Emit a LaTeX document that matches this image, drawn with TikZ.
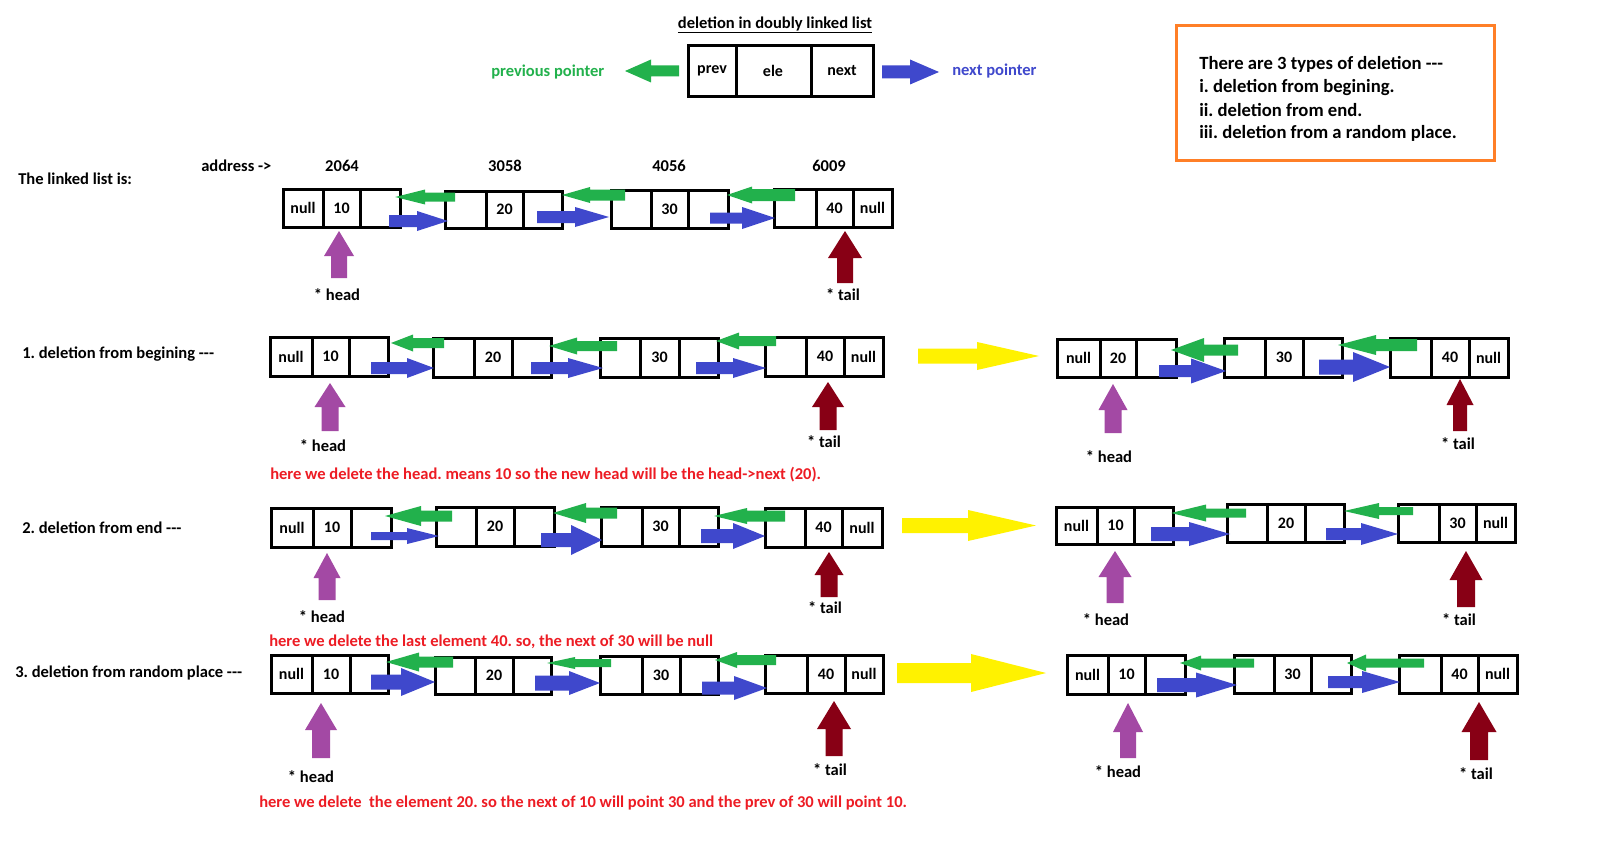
\documentclass[tikz,border=0pt]{standalone}
\usepackage{fontspec}
\setmainfont{Carlito}
\frenchspacing
\definecolor{pgreen}{HTML}{22B14C}
\definecolor{pblue}{HTML}{3F48CC}
\definecolor{ppurple}{HTML}{A349A4}
\definecolor{pdred}{HTML}{880015}
\definecolor{pyellow}{HTML}{FFF200}
\definecolor{porange}{HTML}{FF7F27}
\definecolor{pred}{HTML}{ED1C24}
\newcommand{\tdash}{\mbox{-}\mbox{-}\mbox{-}}
\tikzset{
  boxline/.style={line width=2.25pt, draw=black},
  celltext/.style={font=\fontsize{12}{14}\selectfont\bfseries, inner sep=0pt},
  lbl/.style={font=\fontsize{12.4}{14}\selectfont\bfseries, inner sep=0pt, anchor=west},
  clbl/.style={font=\fontsize{12.4}{14}\selectfont\bfseries, inner sep=0pt},
  redlbl/.style={lbl, text=pred},
  boxtext/.style={font=\fontsize{14}{16}\selectfont\bfseries, inner sep=0pt, anchor=west},
}
% generic three-cell list node
\newcommand{\dllbox}[8]{%
  \draw[boxline] (#2,#6) rectangle (#5,#7) (#3,#6) -- (#3,#7) (#4,#6) -- (#4,#7);
  \node[celltext] (#1a) at ({(#2+#3)/2},{(#6+#7)/2}) {\dllA};
  \node[celltext] (#1b) at ({(#3+#4)/2},{(#6+#7)/2}) {#8};
  \node[celltext] (#1c) at ({(#4+#5)/2},{(#6+#7)/2}) {\dllC};
}
\newcommand{\dllhead}{\def\dllA{null}\def\dllC{}\dllbox}
\newcommand{\dllmid}{\def\dllA{}\def\dllC{}\dllbox}
\newcommand{\dlltail}{\def\dllA{}\def\dllC{null}\dllbox}
% horizontal block arrow: colour, x tail, x head base, x tip, y, shaft, head
\newcommand{\harrow}[7]{%
  \fill[#1] (#2,{#5-#6/2}) -- (#3,{#5-#6/2}) -- (#3,{#5-#7/2}) -- (#4,#5)
    -- (#3,{#5+#7/2}) -- (#3,{#5+#6/2}) -- (#2,{#5+#6/2}) -- cycle;}
% vertical (upward) block arrow: colour, x, y tip, y head base, y bottom, shaft, head
\newcommand{\varrow}[7]{%
  \fill[#1] ({#2-#6/2},#5) -- ({#2-#6/2},#4) -- ({#2-#7/2},#4) -- (#2,#3)
    -- ({#2+#7/2},#4) -- ({#2+#6/2},#4) -- ({#2+#6/2},#5) -- cycle;}
\begin{document}
\begin{tikzpicture}[x=0.75pt,y=-0.75pt]
\useasboundingbox (0,0) rectangle (1598,845);
\fill[white] (0,0) rectangle (1598,845);

% ---------- header ----------
\node[clbl] (title) at (775,25) {\underline{deletion in doubly linked list}};
\draw[boxline] (688,46) rectangle (873,97) (736,46) -- (736,97) (811,46) -- (811,97);
\node[celltext] (lprev) at (712,71) {prev};
\node[celltext] (lele) at (773,71) {ele};
\node[celltext] (lnext) at (842,71) {next};
\harrow{pgreen}{679}{651}{625}{71}{11}{23}
\harrow{pblue}{882}{910}{939}{72}{13}{25}
\node[lbl, text=pgreen] (prevlbl) at (491,72) {previous pointer};
\node[lbl, text=pblue] (nextlbl) at (952,71) {next pointer};

\draw[draw=porange, line width=2.25pt] (1176,26) rectangle (1494,161);
\node[boxtext] (t1) at (1199,64) {There are 3 types of deletion \tdash};
\node[boxtext] (t2) at (1199,88) {i. deletion from begining.};
\node[boxtext] (t3) at (1199,110) {ii. deletion from end.};
\node[boxtext] (t4) at (1199,133) {iii. deletion from a random place.};

% ---------- the linked list ----------
\node[lbl] (lltitle) at (18,179) {The linked list is:};
\node[lbl] (addr) at (201,166) {address ->};
\node[clbl] (a1) at (342,166) {2064};
\node[clbl] (a2) at (505,166) {3058};
\node[clbl] (a3) at (669,166) {4056};
\node[clbl] (a4) at (829,166) {6009};
\dllhead{r0n1}{283}{323}{360}{400}{189}{227}{10}
\dllmid{r0n2}{445}{486}{523}{562}{191}{228}{20}
\dllmid{r0n3}{611}{651}{688}{728}{190}{228}{30}
\dlltail{r0n4}{774}{816}{853}{892}{189}{227}{40}
\harrow{pgreen}{455}{425}{395}{197}{9}{15}
\harrow{pgreen}{625}{590}{562}{195}{11}{16}
\harrow{pgreen}{795}{752}{727}{195}{12}{17}
\harrow{pblue}{389}{417}{448}{221}{12}{20}
\harrow{pblue}{537}{575}{609}{217}{12}{20}
\harrow{pblue}{710}{742}{775}{218}{11}{22}
\varrow{ppurple}{339}{231}{256}{278}{16}{30}
\varrow{pdred}{845}{231}{258}{283}{16}{34}
\node[clbl] (h0) at (337,295) {* head};
\node[clbl] (t0) at (843,295) {* tail};

% ---------- 1. deletion from begining ----------
\node[lbl] (row1) at (22,354) {1. deletion from begining \tdash};
\dllhead{r1n1}{270}{312}{349}{388}{337}{376}{10}
\dllmid{r1n2}{433}{474}{512}{551}{338}{377}{20}
\dllmid{r1n3}{600}{640}{679}{718}{338}{377}{30}
\dlltail{r1n4}{765}{806}{844}{883}{337}{376}{40}
\harrow{pgreen}{444}{413}{391}{343}{10}{17}
\harrow{pgreen}{617}{577}{549}{346}{10}{17}
\harrow{pgreen}{776}{739}{716}{341}{10}{17}
\harrow{pblue}{371}{407}{434}{368}{12}{20}
\harrow{pblue}{531}{568}{603}{368}{12}{20}
\harrow{pblue}{696}{733}{766}{368}{12}{20}
\varrow{ppurple}{330}{383}{407}{431}{17}{31}
\varrow{pdred}{828}{382}{407}{430}{17}{32}
\node[clbl] (h1) at (323,446) {* head};
\node[clbl] (t1b) at (824,442) {* tail};
\node[redlbl] (red1) at (270,475) {here we delete the head. means 10 so the new head will be the head->next (20).};

\harrow{pyellow}{918}{977}{1039}{356}{15}{28}
\dllhead{r1m1}{1057}{1100}{1136}{1176}{339}{377}{20}
\dllmid{r1m2}{1224}{1265}{1303}{1342}{338}{377}{30}
\dlltail{r1m3}{1390}{1431}{1469}{1508}{338}{377}{40}
\harrow{pgreen}{1238}{1204}{1171}{350}{11}{24}
\harrow{pgreen}{1417}{1376}{1338}{345}{12}{20}
\harrow{pblue}{1159}{1191}{1226}{371}{12}{25}
\harrow{pblue}{1319}{1353}{1390}{367}{15}{30}
\varrow{ppurple}{1113}{384}{410}{433}{17}{29}
\varrow{pdred}{1460}{379}{405}{431}{14}{27}
\node[clbl] (h1r) at (1109,457) {* head};
\node[clbl] (t1r) at (1458,444) {* tail};

% ---------- 2. deletion from end ----------
\node[lbl] (row2) at (22,528) {2. deletion from end \tdash};
\dllhead{r2n1}{271}{313}{351}{391}{508}{547}{10}
\dllmid{r2n2}{436}{476}{514}{554}{507}{546}{20}
\dllmid{r2n3}{601}{642}{679}{718}{507}{546}{30}
\dlltail{r2n4}{765}{805}{842}{882}{508}{547}{40}
\harrow{pgreen}{452}{421}{385}{516}{11}{20}
\harrow{pgreen}{617}{586}{553}{513}{11}{20}
\harrow{pgreen}{785}{747}{714}{516}{11}{16}
\harrow{pblue}{371}{407}{439}{536}{8}{16}
\harrow{pblue}{541}{571}{602}{540}{14}{30}
\harrow{pblue}{701}{733}{765}{536}{14}{26}
\varrow{ppurple}{327}{553}{578}{600}{17}{27}
\varrow{pdred}{829}{552}{575}{597}{17}{29}
\node[clbl] (h2) at (322,617) {* head};
\node[clbl] (t2b) at (825,608) {* tail};
\node[redlbl] (red2) at (269,642) {here we delete the last element 40. so, the next of 30 will be null};

\harrow{pyellow}{902}{968}{1036}{525.5}{15}{31}
\dllhead{r2m1}{1056}{1097}{1134}{1173}{507}{544}{10}
\dllmid{r2m2}{1227}{1267}{1305}{1344}{504}{542}{20}
\dlltail{r2m3}{1398}{1439}{1476}{1515}{504}{542}{30}
\harrow{pgreen}{1246}{1206}{1171}{513}{9}{17}
\harrow{pgreen}{1413}{1379}{1344}{511}{8}{16}
\harrow{pblue}{1151}{1189}{1230}{534}{14}{24}
\harrow{pblue}{1326}{1361}{1398}{534}{12}{22}
\varrow{ppurple}{1115}{551}{577}{603}{17}{33}
\varrow{pdred}{1466}{551}{580}{607}{18}{33}
\node[clbl] (h2r) at (1106,620) {* head};
\node[clbl] (t2r) at (1459,620) {* tail};

% ---------- 3. deletion from random place ----------
\node[lbl] (row3) at (15,673) {3. deletion from random place \tdash};
\dllhead{r3n1}{271}{312}{350}{388}{655}{693}{10}
\dllmid{r3n2}{435}{475}{513}{551}{657}{694}{20}
\dllmid{r3n3}{600}{642}{680}{718}{656}{694}{30}
\dlltail{r3n4}{765}{807}{845}{883}{655}{693}{40}
\harrow{pgreen}{453}{419}{386}{662}{11}{19}
\harrow{pgreen}{611}{575}{547}{663}{8}{12}
\harrow{pgreen}{776}{737}{715}{660}{10}{16}
\harrow{pblue}{371}{401}{435}{682}{15}{28}
\harrow{pblue}{535}{569}{600}{683}{15}{24}
\harrow{pblue}{702}{734}{767}{688}{13}{24}
\varrow{ppurple}{321}{703}{730}{758}{18}{32}
\varrow{pdred}{834}{701}{729}{756}{17}{34}
\node[clbl] (h3) at (311,777) {* head};
\node[clbl] (t3b) at (830,770) {* tail};
\node[redlbl] (red3) at (259,803) {here we delete\ \ the element 20. so the next of 10 will point 30 and the prev of 30 will point 10.};

\harrow{pyellow}{897}{971}{1046}{673}{20}{38}
\dllhead{r3m1}{1067}{1108}{1145}{1185}{655}{694}{10}
\dllmid{r3m2}{1234}{1274}{1311}{1351}{655}{693}{30}
\dlltail{r3m3}{1399}{1441}{1478}{1517}{655}{693}{40}
\harrow{pgreen}{1254}{1201}{1180}{663}{9}{15}
\harrow{pgreen}{1424}{1366}{1347}{663}{9}{17}
\harrow{pblue}{1157}{1196}{1237}{685}{14}{25}
\harrow{pblue}{1328}{1362}{1400}{682}{12}{22}
\varrow{ppurple}{1128}{703}{732}{758}{16}{30}
\varrow{pdred}{1479}{702}{732}{760}{18}{35}
\node[clbl] (h3r) at (1118,772) {* head};
\node[clbl] (t3r) at (1476,774) {* tail};
\end{tikzpicture}
\end{document}
